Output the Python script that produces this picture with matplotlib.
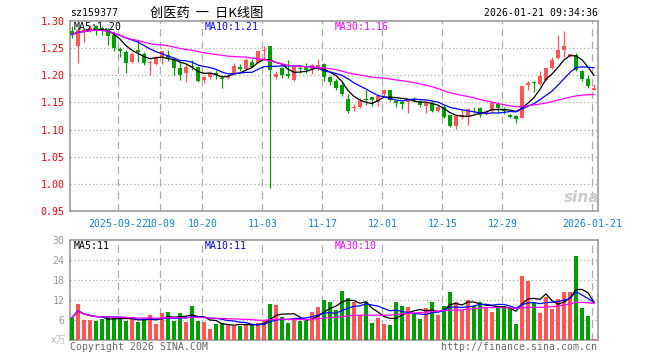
import numpy as np
import pandas as pd
import matplotlib
matplotlib.use('Agg')
import matplotlib.pyplot as plt

# trading days shown (holidays removed)
holidays = ['2025-10-01', '2025-10-02', '2025-10-03', '2025-10-06', '2025-10-07',
            '2025-10-08', '2026-01-01', '2026-01-02']
days = pd.bdate_range('2025-09-10', '2026-01-21')
days = [d.strftime('%Y-%m-%d') for d in days if d.strftime('%Y-%m-%d') not in holidays]

opens = [1.282, 1.254, 1.280, 1.283, 1.290, 1.287, 1.285, 1.275, 1.248, 1.243,
         1.224, 1.247, 1.240, 1.223, 1.221, 1.232, 1.238, 1.228, 1.213, 1.204,
         1.217, 1.216, 1.191, 1.196, 1.205, 1.194, 1.195, 1.202, 1.216, 1.211,
         1.224, 1.223, 1.244, 1.254, 1.196, 1.213, 1.203, 1.191, 1.214, 1.214,
         1.211, 1.211, 1.221, 1.196, 1.190, 1.182, 1.156, 1.139, 1.141, 1.157,
         1.160, 1.151, 1.166, 1.172, 1.152, 1.150, 1.150, 1.157, 1.152, 1.143,
         1.149, 1.135, 1.141, 1.126, 1.107, 1.123, 1.124, 1.138, 1.139, 1.129,
         1.135, 1.147, 1.138, 1.127, 1.125, 1.122, 1.182, 1.187, 1.184, 1.192,
         1.213, 1.231, 1.247, 1.235, 1.238, 1.208, 1.193, 1.173]
closes = [1.275, 1.284, 1.283, 1.288, 1.284, 1.283, 1.272, 1.250, 1.245, 1.223,
          1.240, 1.243, 1.222, 1.224, 1.233, 1.245, 1.230, 1.213, 1.201, 1.216,
          1.215, 1.190, 1.196, 1.204, 1.201, 1.193, 1.198, 1.217, 1.212, 1.228,
          1.216, 1.244, 1.246, 1.209, 1.203, 1.201, 1.198, 1.216, 1.212, 1.209,
          1.219, 1.219, 1.196, 1.187, 1.176, 1.166, 1.135, 1.142, 1.153, 1.155,
          1.155, 1.162, 1.173, 1.155, 1.149, 1.148, 1.156, 1.155, 1.145, 1.149,
          1.135, 1.141, 1.124, 1.107, 1.125, 1.127, 1.137, 1.137, 1.127, 1.133,
          1.149, 1.139, 1.135, 1.124, 1.119, 1.180, 1.186, 1.186, 1.199, 1.213,
          1.228, 1.247, 1.254, 1.240, 1.209, 1.193, 1.180, 1.177]
highs = [1.290, 1.287, 1.287, 1.292, 1.293, 1.290, 1.288, 1.281, 1.253, 1.247,
         1.242, 1.265, 1.243, 1.226, 1.236, 1.245, 1.247, 1.230, 1.225, 1.220,
         1.228, 1.218, 1.199, 1.207, 1.210, 1.200, 1.200, 1.222, 1.220, 1.232,
         1.230, 1.245, 1.254, 1.254, 1.207, 1.216, 1.228, 1.218, 1.218, 1.223,
         1.220, 1.230, 1.222, 1.199, 1.194, 1.185, 1.166, 1.147, 1.159, 1.172,
         1.160, 1.165, 1.174, 1.173, 1.155, 1.152, 1.156, 1.160, 1.154, 1.151,
         1.152, 1.145, 1.145, 1.127, 1.127, 1.136, 1.139, 1.141, 1.141, 1.136,
         1.151, 1.150, 1.141, 1.129, 1.127, 1.180, 1.190, 1.190, 1.207, 1.213,
         1.233, 1.274, 1.281, 1.240, 1.241, 1.210, 1.201, 1.184]
lows = [1.268, 1.223, 1.262, 1.280, 1.275, 1.274, 1.256, 1.244, 1.234, 1.205,
        1.222, 1.225, 1.219, 1.200, 1.219, 1.221, 1.226, 1.200, 1.192, 1.188,
        1.209, 1.188, 1.186, 1.193, 1.193, 1.177, 1.194, 1.201, 1.208, 1.210,
        1.215, 1.222, 1.228, 0.993, 1.194, 1.195, 1.195, 1.190, 1.205, 1.205,
        1.203, 1.210, 1.190, 1.182, 1.173, 1.162, 1.130, 1.135, 1.140, 1.145,
        1.143, 1.144, 1.161, 1.152, 1.142, 1.137, 1.131, 1.150, 1.141, 1.131,
        1.133, 1.133, 1.121, 1.104, 1.101, 1.119, 1.108, 1.130, 1.124, 1.127,
        1.133, 1.130, 1.128, 1.121, 1.113, 1.121, 1.172, 1.170, 1.182, 1.190,
        1.211, 1.230, 1.233, 1.233, 1.207, 1.190, 1.176, 1.172]
# volume in 万
volumes = [6.7, 10.8, 6.0, 6.0, 5.7, 6.3, 7.2, 6.5, 6.5, 5.7,
           6.2, 5.4, 6.5, 7.4, 4.8, 8.0, 8.4, 5.7, 8.1, 5.4,
           10.2, 5.7, 5.4, 3.3, 4.7, 5.2, 4.7, 4.3, 4.3, 4.7,
           4.7, 5.0, 5.8, 10.8, 10.4, 6.9, 5.1, 6.2, 5.7, 5.7,
           8.4, 9.9, 12.0, 11.5, 9.0, 14.7, 12.6, 11.4, 7.4, 11.4,
           5.1, 6.6, 4.8, 4.5, 11.4, 10.2, 9.9, 7.8, 6.3, 9.6,
           11.4, 7.5, 10.2, 14.4, 11.4, 9.0, 12.0, 10.2, 11.4, 9.6,
           8.4, 10.2, 10.2, 9.6, 4.8, 19.3, 17.7, 11.1, 8.1, 12.9,
           9.3, 12.3, 14.4, 14.4, 25.2, 9.6, 7.2, 0.3]

tick_days = ['2025-09-22', '2025-10-09', '2025-10-20', '2025-11-03', '2025-11-17',
             '2025-12-01', '2025-12-15', '2025-12-29', '2026-01-21']
tick_text = ['2025-09-22', '10-09', '10-20', '11-03', '11-17',
             '12-01', '12-15', '12-29', '2026-01-21']
price_ticks = [0.95, 1.00, 1.05, 1.10, 1.15, 1.20, 1.25, 1.30]
vol_ticks = [6, 12, 18, 24, 30]

RED = '#ff5555'
GREEN = '#00a000'
GRID = '#aaaaaa'
MONO = ['DejaVu Sans Mono', 'Noto Sans CJK SC']
FS = 7.1

n = len(closes)
x = np.arange(n)
o = np.array(opens); c = np.array(closes)
h = np.array(highs); l = np.array(lows)
v = np.array(volumes)
cols = [RED if c[i] >= o[i] else GREEN for i in range(n)]

cs = pd.Series(c)
vs = pd.Series(v)
ma = {k: cs.rolling(k, min_periods=1).mean() for k in (5, 10, 30)}
vma = {k: vs.rolling(k, min_periods=1).mean() for k in (5, 10, 30)}
ma_col = {5: 'black', 10: '#0000ff', 30: '#ff00ff'}

tick_x = [days.index(d) - 0.25 for d in tick_days]

W, H = 660, 360
fig = plt.figure(figsize=(6.6, 3.6), dpi=100)
fig.patch.set_facecolor('white')


def box(x0, y0, x1, y1):
    return [x0 / W, 1 - y1 / H, (x1 - x0) / W, (y1 - y0) / H]


ax = fig.add_axes(box(70, 21, 598, 211))
axv = fig.add_axes(box(70, 240, 598, 340))

for a in (ax, axv):
    a.set_xlim(-0.33, n - 0.33)
    for s in a.spines.values():
        s.set_color('#999999')
        s.set_linewidth(1.2)
    for t in tick_x:
        a.axvline(t, color=GRID, lw=0.9, ls=(0, (6, 4)), zorder=0)

# price panel
ax.set_ylim(0.95, 1.30)
for p in price_ticks[1:-1]:
    ax.axhline(p, color=GRID, lw=0.9, ls=(0, (1, 2)), zorder=0)
ax.vlines(x, l, h, colors=cols, lw=0.9, zorder=2)
body = np.maximum(np.abs(c - o), 0.0012)
ax.bar(x, body, bottom=np.minimum(o, c), width=0.75, color=cols, zorder=3)
for k in (5, 10, 30):
    ax.plot(x, ma[k], color=ma_col[k], lw=0.9, zorder=4)
ax.set_yticks(price_ticks)
ax.set_yticklabels(['%.2f' % p for p in price_ticks], family=MONO, fontsize=FS)
ax.tick_params(axis='y', length=0, colors='red', pad=4)
ax.set_xticks(tick_x)
ax.set_xticklabels(tick_text, family=MONO, fontsize=FS)
ax.tick_params(axis='x', length=0, colors='#0a84d8', pad=6)

# volume panel
axv.set_ylim(0, 30)
for t in vol_ticks[:-1]:
    axv.axhline(t, color=GRID, lw=0.9, ls=(0, (1, 2)), zorder=0)
axv.bar(x, v, width=0.75, color=cols, zorder=3)
for k in (5, 10, 30):
    axv.plot(x, vma[k], color=ma_col[k], lw=0.9, zorder=4)
axv.set_yticks(vol_ticks)
axv.set_yticklabels([str(t) for t in vol_ticks], family=MONO, fontsize=FS)
axv.tick_params(axis='y', length=0, colors='#999999', pad=4)
axv.set_xticks([])

# texts
def ftext(px, py, s, **kw):
    kw.setdefault('family', MONO)
    kw.setdefault('fontsize', FS)
    fig.text(px / W, 1 - py / H, s, va='center', **kw)

ftext(70, 13, 'sz159377', color='black')
ftext(207, 13, '创医药  一  日K线图', ha='center', color='black',
      family=['Noto Sans CJK SC', 'DejaVu Sans'], fontsize=9.5)
ftext(598, 13, '2026-01-21 09:34:36', ha='right', color='black')

ftext(74, 27, 'MA5:1.20', color='black')
ftext(205, 27, 'MA10:1.21', color='#0000ff')
ftext(335, 27, 'MA30:1.16', color='#ff00ff')
ftext(74, 246, 'MA5:11', color='black')
ftext(205, 246, 'MA10:11', color='#0000ff')
ftext(335, 246, 'MA30:10', color='#ff00ff')

ftext(66, 340, 'x万', ha='right', color='#bbbbbb', fontsize=7)
ftext(70, 347, 'Copyright 2026 SINA.COM', color='#666666')
ftext(597, 347, 'http://finance.sina.com.cn', ha='right', color='#666666')
ftext(582, 197, 'sina', ha='center', color='#cccccc', fontsize=11,
      family='DejaVu Sans', fontweight='bold', style='italic')

fig.savefig('out.png', dpi=100, facecolor='white')
